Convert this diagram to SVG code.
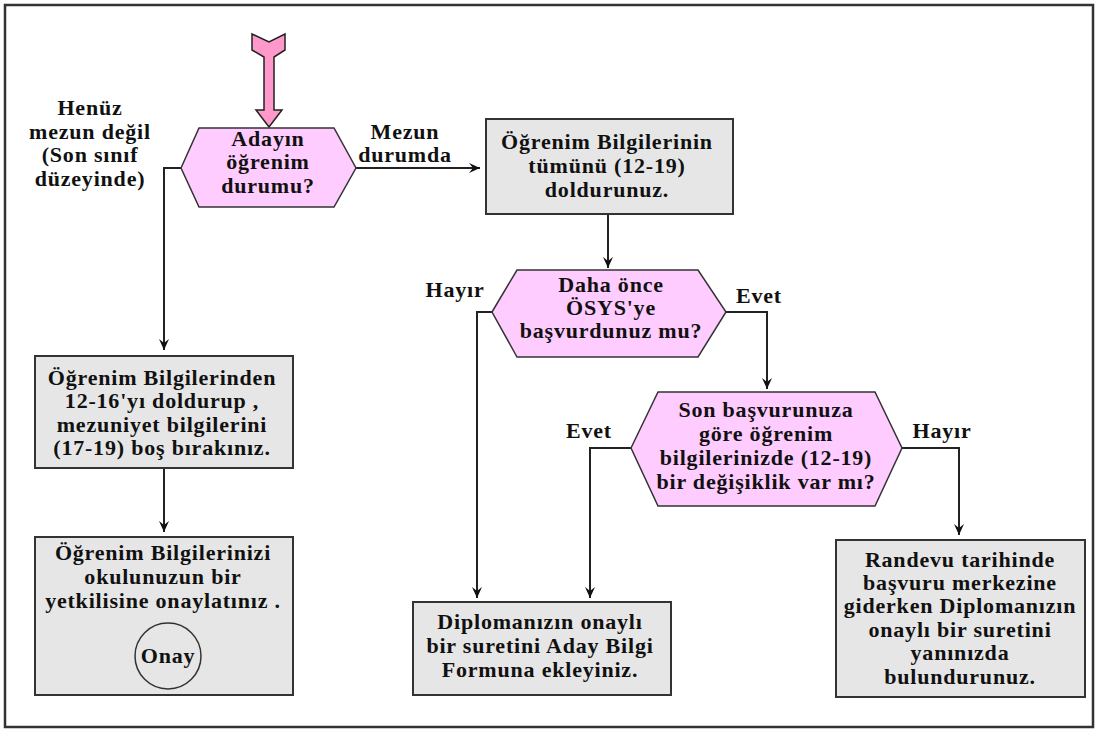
<svg xmlns="http://www.w3.org/2000/svg" width="1099" height="731" viewBox="0 0 1099 731">
<style>
text{font-family:"Liberation Serif","Times New Roman",serif;font-weight:bold;font-size:22px;letter-spacing:0.8px;fill:#111;text-anchor:middle}
.box{fill:#e6e6e6;stroke:#333;stroke-width:2}
.hex{fill:#ffccff;stroke:#333;stroke-width:1.5}
.con{fill:none;stroke:#222;stroke-width:2;marker-end:url(#ah)}
</style>
<defs>
<marker id="ah" viewBox="0 0 12 12" refX="11" refY="6" markerWidth="12" markerHeight="12" markerUnits="userSpaceOnUse" orient="auto">
<path d="M0,1 L11,6 L0,11 L4,6 Z" fill="#111"/>
</marker>
</defs>
<rect x="5" y="5" width="1088" height="722" fill="#fff" stroke="#333" stroke-width="2.5"/>

<g id="connectors">
<path class="con" d="M181,168 H164 V350"/>
<path class="con" d="M356,168 H480"/>
<path class="con" d="M608,214 V268"/>
<path class="con" d="M492,312 H477 V598"/>
<path class="con" d="M726,312 H767 V389"/>
<path class="con" d="M631,448 H590 V598"/>
<path class="con" d="M902,448 H959 V535"/>
<path class="con" d="M164,468 V532"/>
</g>

<g id="start">
<polygon points="252,34 269,42 285,34 285,50 274,57 274,110 282,110 269,127 256,110 264,110 264,57 252,50" fill="#ff99cc" stroke="#222" stroke-width="1.5"/>
</g>

<g id="labels">
<text x="90" y="115">Henüz</text>
<text x="90" y="139">mezun değil</text>
<text x="90" y="162">(Son sınıf</text>
<text x="90" y="186">düzeyinde)</text>
<text x="405" y="139">Mezun</text>
<text x="405" y="162">durumda</text>
<text x="455" y="297">Hayır</text>
<text x="759" y="303">Evet</text>
<text x="589" y="438">Evet</text>
<text x="942" y="438">Hayır</text>
</g>

<g id="decision1">
<polygon class="hex" points="181,168 199,128 334,128 356,168 334,207 199,207"/>
<text x="268" y="146">Adayın</text>
<text x="268" y="169">öğrenim</text>
<text x="268" y="193">durumu?</text>
</g>

<g id="box-all">
<rect class="box" x="486" y="119" width="247" height="95"/>
<text x="607" y="149">Öğrenim Bilgilerinin</text>
<text x="607" y="173">tümünü (12-19)</text>
<text x="607" y="197">doldurunuz.</text>
</g>

<g id="decision2">
<polygon class="hex" points="492,312 517,270 698,270 726,312 698,357 517,357"/>
<text x="611" y="292">Daha önce</text>
<text x="611" y="315">ÖSYS'ye</text>
<text x="611" y="338">başvurdunuz mu?</text>
</g>

<g id="decision3">
<polygon class="hex" points="631,448 658,392 875,392 902,448 875,506 658,506"/>
<text x="766" y="417">Son başvurunuza</text>
<text x="766" y="441">göre öğrenim</text>
<text x="766" y="465">bilgilerinizde  (12-19)</text>
<text x="766" y="489">bir değişiklik var mı?</text>
</g>

<g id="box-partial">
<rect class="box" x="35" y="356" width="258" height="112"/>
<text x="162" y="385">Öğrenim Bilgilerinden</text>
<text x="162" y="408">12-16'yı doldurup ,</text>
<text x="162" y="432">mezuniyet bilgilerini</text>
<text x="162" y="455">(17-19) boş bırakınız.</text>
</g>

<g id="box-approve">
<rect class="box" x="35" y="537" width="258" height="158"/>
<text x="163" y="560">Öğrenim Bilgilerinizi</text>
<text x="163" y="584">okulunuzun bir</text>
<text x="163" y="608">yetkilisine onaylatınız .</text>
<circle cx="168" cy="656" r="33" fill="none" stroke="#333" stroke-width="1.5"/>
<text x="168" y="663">Onay</text>
</g>

<g id="box-diploma">
<rect class="box" x="413" y="602" width="258" height="93"/>
<text x="540" y="629">Diplomanızın onaylı</text>
<text x="540" y="653">bir suretini Aday Bilgi</text>
<text x="540" y="677">Formuna ekleyiniz.</text>
</g>

<g id="box-randevu">
<rect class="box" x="836" y="540" width="249" height="157"/>
<text x="960" y="567">Randevu tarihinde</text>
<text x="960" y="590">başvuru merkezine</text>
<text x="960" y="613">giderken Diplomanızın</text>
<text x="960" y="637">onaylı bir suretini</text>
<text x="960" y="660">yanınızda</text>
<text x="960" y="684">bulundurunuz.</text>
</g>
</svg>
